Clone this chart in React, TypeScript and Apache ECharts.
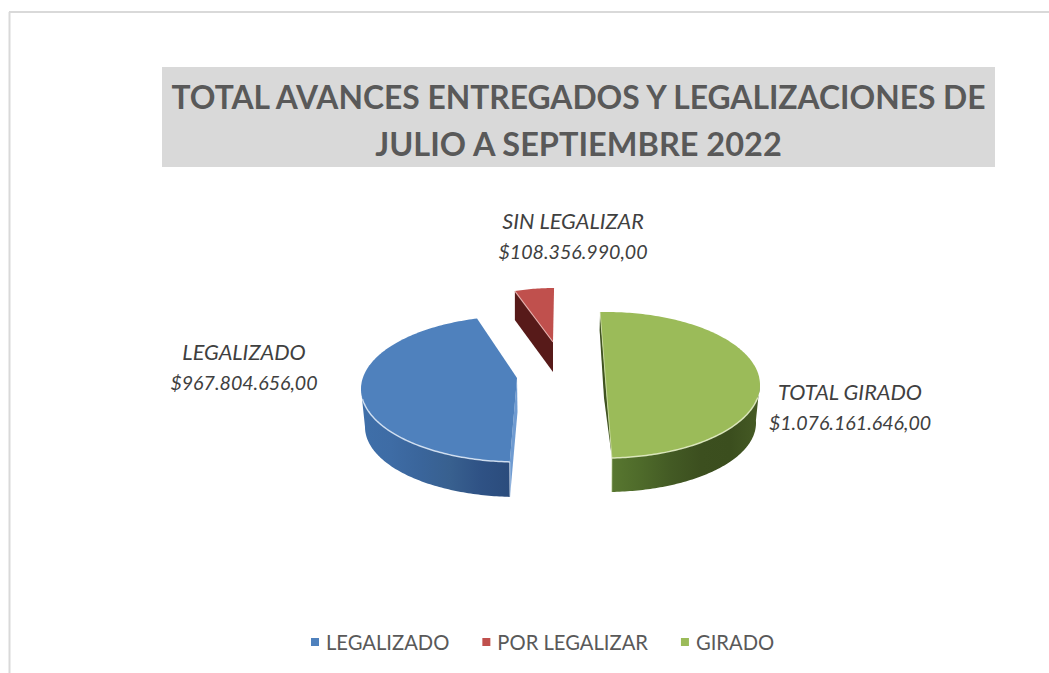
import React, { useEffect, useRef } from "react";
import * as echarts from "echarts";

const categories = ["LEGALIZADO", "POR LEGALIZAR", "GIRADO"];
const sliceLabels = ["LEGALIZADO", "SIN LEGALIZAR", "TOTAL GIRADO"];
const values = [967804656, 108356990, 1076161646];
const colors = ["#4F81BD", "#C0504D", "#9BBB59"];
const titleLines = ["TOTAL AVANCES ENTREGADOS Y LEGALIZACIONES DE", "JULIO A SEPTIEMBRE 2022"];

const formatMoney = (v: number) =>
  "$" + String(v).replace(/\B(?=(\d{3})+$)/g, ".") + ",00";

const total = values.reduce((a, b) => a + b, 0);
type Pt = [number, number];

const grad = (stops: string[]) =>
  new echarts.graphic.LinearGradient(
    0, 0, 1, 0,
    stops.map((c, i) => ({ offset: stops.length > 1 ? i / (stops.length - 1) : 0, color: c }))
  );

const geom = [
  {
    top: { cx: 518, cy: 389, rx: 157, ry: 73 }, bot: { cx: 518, cy: 427, rx: 153, ry: 70 },
    start: 183, apex: [517, 378] as Pt, apexLow: [517.5, 412] as Pt,
    sideFrom: 270, sideStops: ["#3F6FA9", "#3E6CA5", "#3A659B", "#38608F", "#2F5285", "#2B4C7C"],
    wall: "#6F9BD1", rim: "rgba(225,235,248,0.85)",
  },
  {
    top: { cx: 554, cy: 349, rx: 126, ry: 61 }, bot: { cx: 554, cy: 379, rx: 126, ry: 61 },
    start: -18.1, apex: [553, 342] as Pt, apexLow: [553, 372] as Pt,
    sideFrom: null, sideStops: [], wall: "#571A19", rim: "rgba(240,190,188,0.8)",
  },
  {
    top: { cx: 606, cy: 385, rx: 154, ry: 73 }, bot: { cx: 606, cy: 423, rx: 150, ry: 69 },
    start: -2.2, apex: [605.5, 385] as Pt, apexLow: [604, 398] as Pt,
    sideFrom: 88, sideStops: ["#587730", "#4E6A2A", "#435A24", "#3C4F1F", "#3B4E1E", "#465B25"],
    wall: "#3F5220", rim: "rgba(225,235,195,0.9)",
  },
];

const ell = (e: { cx: number; cy: number; rx: number; ry: number }, deg: number): Pt => {
  const r = (deg * Math.PI) / 180;
  return [e.cx + e.rx * Math.sin(r), e.cy - e.ry * Math.cos(r)];
};
const arc = (e: any, a: number, b: number): Pt[] => {
  const n = Math.max(2, Math.ceil(Math.abs(b - a)));
  const out: Pt[] = [];
  for (let i = 0; i <= n; i++) out.push(ell(e, a + ((b - a) * i) / n));
  return out;
};

const renderSlice = (index: number) => (_p: any, api: any) => {
  const g = geom[index];
  const sweep = (api.value(0) / total) * 360;
  const a = g.start;
  const b = g.start + sweep;
  const rimPts = arc(g.top, a, b);
  const children: any[] = [];

  if (g.sideFrom !== null) {
    const from = index === 0 ? a : g.sideFrom;
    const to = index === 0 ? g.sideFrom : b;
    const pts = [...arc(g.top, from, to), ...arc(g.bot, to, from)];
    children.push({
      type: "polygon",
      shape: { points: pts },
      style: { fill: grad(g.sideStops) },
    });
  }

  if (index === 0) {
    const s = rimPts[0];
    children.push({
      type: "polygon",
      shape: { points: [g.apex, s, ell(g.bot, a), g.apexLow] },
      style: { fill: g.wall },
    });
  } else if (index === 1) {
    const s = rimPts[0];
    const low: Pt = [s[0], s[1] + 29];
    children.push({
      type: "polygon",
      shape: { points: [s, g.apex, g.apexLow, low] },
      style: { fill: g.wall },
    });
  } else {
    const s = rimPts[0];
    const e = rimPts[rimPts.length - 1];
    children.push({
      type: "polygon",
      shape: { points: [s, e, g.apexLow, [s[0] - 0.5, s[1] + 18]] },
      style: { fill: g.wall },
    });
  }

  children.push({
    type: "polygon",
    shape: { points: [g.apex, ...rimPts] },
    style: { fill: colors[index] },
  });

  if (index === 0) {
    const front = arc(g.top, a, 262);
    children.push({ type: "polyline", shape: { points: front }, style: { fill: "none", stroke: g.rim, lineWidth: 1.5 } });
    children.push({ type: "polyline", shape: { points: [ell(g.top, a), ell(g.bot, a)] }, style: { fill: "none", stroke: "rgba(225,235,248,0.7)", lineWidth: 1 } });
  } else if (index === 1) {
    children.push({ type: "polyline", shape: { points: [rimPts[0], g.apex] }, style: { fill: "none", stroke: g.rim, lineWidth: 1.2 } });
  } else {
    const front = arc(g.top, 100, b);
    children.push({ type: "polyline", shape: { points: front }, style: { fill: "none", stroke: g.rim, lineWidth: 1.5 } });
    children.push({ type: "polyline", shape: { points: [rimPts[0], rimPts[rimPts.length - 1]] }, style: { fill: "none", stroke: "rgba(225,235,195,0.6)", lineWidth: 1 } });
    children.push({ type: "polyline", shape: { points: [ell(g.top, b), ell(g.bot, b)] }, style: { fill: "none", stroke: "rgba(225,235,195,0.6)", lineWidth: 1 } });
  }
  return { type: "group", children };
};

const labelAnchors: Pt[] = [[244, 367], [573, 236], [850, 407]];

export default function App() {
  const ref = useRef<HTMLDivElement>(null);
  useEffect(() => {
    document.body.style.margin = "0";
    document.body.style.background = "#ffffff";
    const chart = echarts.init(ref.current!, undefined, { renderer: "svg" });
    const titleFont = { fontFamily: "Lato", fontWeight: "bold", lineHeight: 46, color: "#595959" };
    chart.setOption({
      animation: false,
      backgroundColor: "#ffffff",
      title: {
        text: "{a|" + titleLines[0] + "}\n{b|" + titleLines[1] + "}",
        left: 578.5,
        top: 74,
        textAlign: "center",
        padding: 0,
        textStyle: {
          ...titleFont,
          fontSize: 31.8,
          rich: {
            a: { ...titleFont, fontSize: 31.8 },
            b: { ...titleFont, fontSize: 32.5 },
          },
        },
      },
      legend: {
        left: 311,
        top: 632,
        padding: 0,
        icon: "rect",
        itemWidth: 8,
        itemHeight: 8,
        itemGap: 33,
        data: categories,
        textStyle: {
          fontFamily: "Lato",
          fontSize: 20.2,
          color: "#595959",
          padding: [0, 0, 0, 2],
        },
      },
      graphic: [
        { type: "line", silent: true, z: -1, shape: { x1: 9.5, y1: 12, x2: 9.5, y2: 673 }, style: { stroke: "#D9D9D9", lineWidth: 2 } },
        { type: "line", silent: true, z: -1, shape: { x1: 9, y1: 12, x2: 1049, y2: 12 }, style: { stroke: "#D9D9D9", lineWidth: 2 } },
        { type: "rect", silent: true, z: -1, shape: { x: 162, y: 67, width: 833, height: 100 }, style: { fill: "#D9D9D9" } },
        ...values.map((v, i) => ({
          type: "text",
          silent: true,
          x: labelAnchors[i][0],
          y: labelAnchors[i][1],
          style: {
            text: "{n|" + sliceLabels[i] + "}\n{v|" + formatMoney(v) + "}",
            align: "center",
            verticalAlign: "middle",
            fontFamily: "Lato",
            fontStyle: "italic",
            fill: "#404040",
            rich: {
              n: { fontFamily: "Lato", fontStyle: "italic", fontSize: 21.7, lineHeight: 30, fill: "#404040" },
              v: { fontFamily: "Lato", fontStyle: "italic", fontSize: 19.6, lineHeight: 30, fill: "#404040" },
            },
          },
        })),
      ],
      series: categories.map((name, i) => ({
        type: "custom",
        name,
        coordinateSystem: "none",
        itemStyle: { color: colors[i] },
        renderItem: renderSlice(i),
        data: [[values[i]]],
      })),
    });
    return () => chart.dispose();
  }, []);
  return <div ref={ref} style={{ width: 1049, height: 673, overflow: "hidden" }} />;
}
